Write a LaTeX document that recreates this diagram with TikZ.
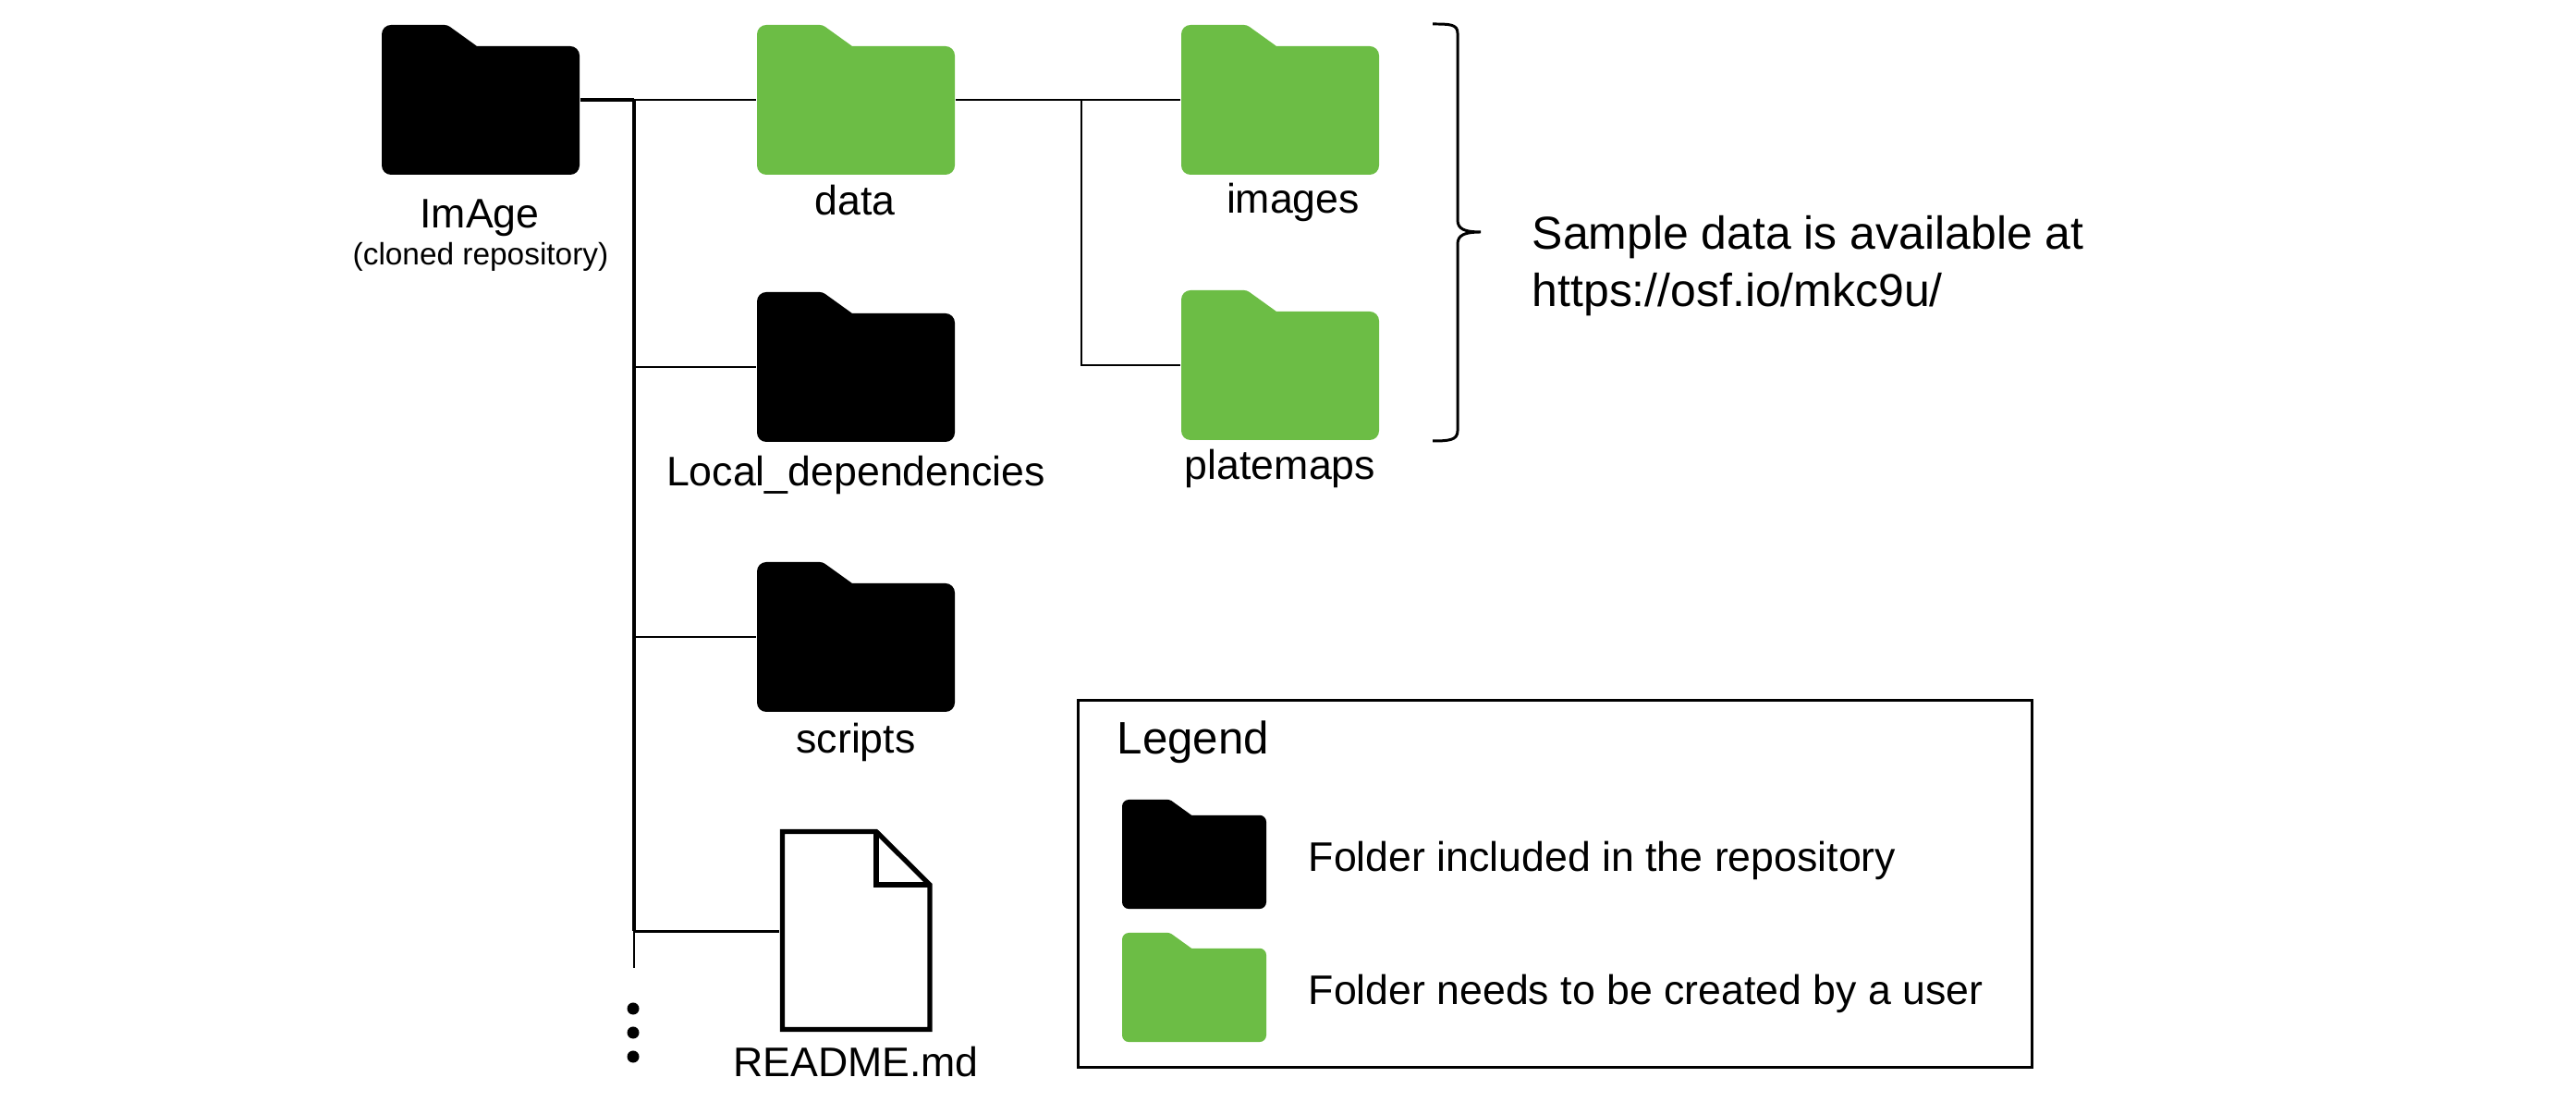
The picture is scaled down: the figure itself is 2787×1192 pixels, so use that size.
\documentclass[tikz,border=0pt]{standalone}
\usepackage{fontspec}
\setmainfont{Liberation Sans}
\usetikzlibrary{calc,positioning}
\definecolor{FolderGreen}{RGB}{108,189,69}
\tikzset{
  lbl/.style={anchor=base,inner sep=0pt,font=\fontsize{12.7}{15}\selectfont},
  smalllbl/.style={anchor=base,inner sep=0pt,font=\fontsize{9.5}{11}\selectfont},
  keylbl/.style={anchor=base west,inner sep=0pt,font=\fontsize{12.7}{15}\selectfont},
  stem/.style={line width=1.05pt},
  twig/.style={line width=.72pt},
  dotmark/.style={circle,fill=black,inner sep=0pt,minimum size=.13cm}
}
% name, left, top, scale, colour
\newcommand{\folderbox}[5]{%
  \begin{scope}[shift={(#2,#3)},scale=#4]
    \fill[#5,rounded corners=#4*.1cm] (0,80)--(0,0)[rounded corners=#4*.03cm]--(71,0)[sharp corners]--(103,23)[rounded corners=#4*.1cm]--(214,23)--(214,162)--(0,162)--cycle;
    \node[inner sep=0pt,minimum width=#4*2.14cm,minimum height=#4*1.62cm] (#1) at (107,81){};
  \end{scope}}

\begin{document}
\begin{tikzpicture}[x=.01cm,y=-.01cm]
\useasboundingbox (0,0) rectangle (2787,1192);
% folders
\folderbox{image}{413}{27}{1}{black}
\folderbox{data}{819}{27}{1}{FolderGreen}
\folderbox{deps}{819}{316}{1}{black}
\folderbox{scripts}{819}{608}{1}{black}
\folderbox{images}{1278}{27}{1}{FolderGreen}
\folderbox{platemaps}{1278}{314}{1}{FolderGreen}
% readme page
\node[inner sep=0pt,minimum width=1.64cm,minimum height=2.19cm] (readme) at (926,1007.5){};
\draw[line width=1.5pt,miter limit=3] (846.5,899.5)--(948,899.5)--(1006,957)--(1006,1113.5)--(846.5,1113.5)--cycle;
\draw[line width=1.5pt] (948,899.5)--(948,957)--(1006,957);
% tree lines
\coordinate (trunk) at (686,108);\coordinate (fork) at (1170,108);\coordinate (trunkend) at (686,1047);
\coordinate (lastbranch) at (686,1007.5);
\draw[stem] (image.east)--(trunk);\draw[twig] (trunk)--(data.west);
\draw[stem] (trunk)--(lastbranch);\draw[twig] (lastbranch)--(trunkend);
\draw[twig] (trunk|-deps.west)--(deps.west);\draw[twig] (trunk|-scripts.west)--(scripts.west);\draw[twig] (lastbranch)--(readme.west);
\draw[twig] (data.east)--(images.west);\draw[twig] (fork)|-(platemaps.west);
\node[dotmark] (dota) at (685,1091){};\node[dotmark] (dotb) at (685,1117){};\node[dotmark] (dotc) at (685,1143){};
% labels
\node[lbl] (imagelbl) at (519,247){ImAge};\node[smalllbl] (clonedlbl) at (520,287){(cloned repository)};
\node[lbl] (datalbl) at (925,233){data};\node[lbl] (depslbl) at (926,526){Local\_dependencies};
\node[lbl] (scriptslbl) at (926,815){scripts};\node[lbl] (readmelbl) at (926,1165){README.md};
\node[lbl] (imageslbl) at (1399,231){images};\node[lbl] (plateslbl) at (1385,519){platemaps};
% brace
\draw[line width=.85pt] (1550,26) .. controls (1568,26) and (1577,26) .. (1577,36)--(1577,238) .. controls (1577,248) and (1585,251) .. (1602,251) .. controls (1585,251) and (1577,254) .. (1577,264)--(1577,466) .. controls (1577,476) and (1568,477) .. (1550,477);
\node[anchor=base west,inner sep=0pt,font=\fontsize{14.2}{17.6}\selectfont] (samplea) at (1657,270){Sample data is available at};
\node[anchor=base west,inner sep=0pt,font=\fontsize{14.2}{17.6}\selectfont] (sampleb) at (1657,332){https://osf.io/mkc9u/};
% legend
\node[draw,line width=.85pt,inner sep=0pt,minimum width=10.31cm,minimum height=3.96cm] (legend) at (1682.5,956){};
\node[anchor=base west,inner sep=0pt,font=\fontsize{14}{17}\selectfont] (legendlbl) at (1208,816){Legend};
\folderbox{keyblack}{1214}{865}{.729}{black}
\folderbox{keygreen}{1214}{1009}{.729}{FolderGreen}
\node[keylbl] (keyblacklbl) at (1415,943){Folder included in the repository};
\node[keylbl] (keygreenlbl) at (1415,1087){Folder needs to be created by a user};
\end{tikzpicture}
\end{document}
